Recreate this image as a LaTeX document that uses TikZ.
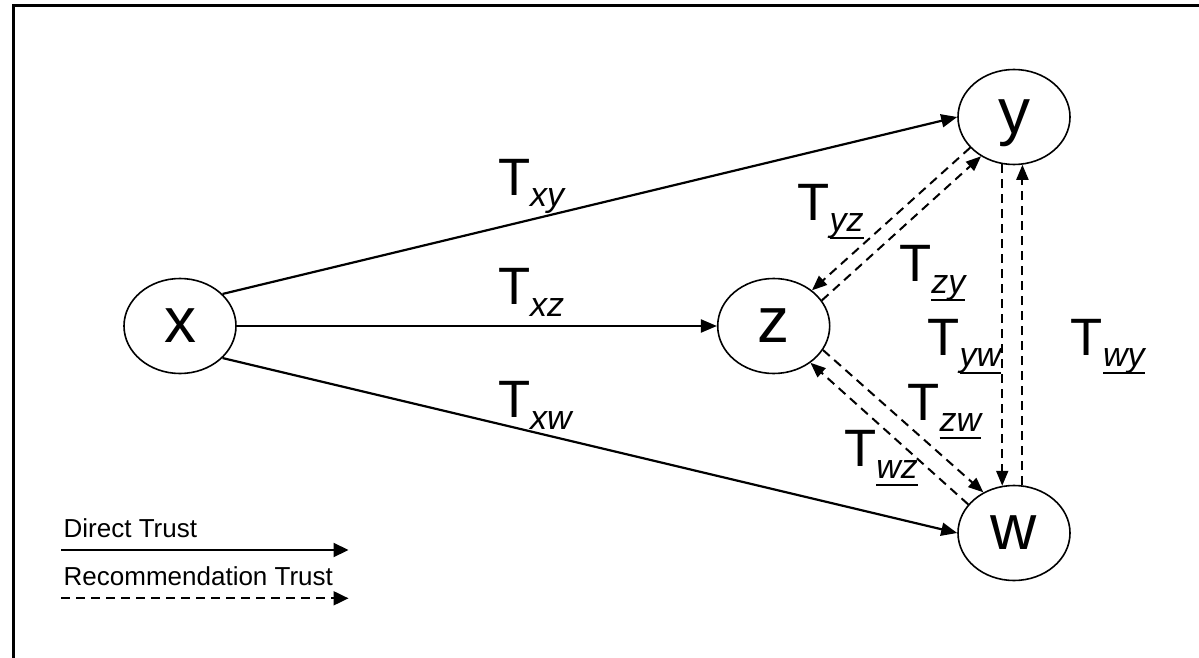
\documentclass[tikz,border=0pt]{standalone}
\usepackage{fontspec}
\setmainfont{Liberation Sans}
\usetikzlibrary{arrows.meta,shapes.geometric}
\newsavebox\myulbox
\newcommand\myul[1]{\sbox\myulbox{#1}\rlap{\rule[-7.5pt]{\wd\myulbox}{1.8pt}}\usebox\myulbox}
\newcommand\Tsub[1]{{\fontsize{52.6}{60}\selectfont T}\raisebox{-11.7pt}{\fontsize{34}{40}\selectfont\itshape #1}}
\newcommand\Tsubu[1]{{\fontsize{52.6}{60}\selectfont T}\raisebox{-11.7pt}{\fontsize{34}{40}\selectfont\itshape\myul{#1}}}
\tikzset{
  agent/.style={ellipse, draw, line width=1.6pt, minimum width=112pt, minimum height=95pt,
    inner sep=0pt, text height=33pt, text depth=0pt, font=\fontsize{64}{70}\selectfont},
  direct/.style={line width=2.2pt, -{Triangle[length=16pt,width=13pt]}},
  recom/.style={line width=2pt, dash pattern=on 9pt off 6pt, -{Triangle[length=15pt,width=12pt]}},
  lbl/.style={anchor=base west, inner sep=0pt},
  legtext/.style={anchor=base west, inner sep=0pt, font=\fontsize{26}{30}\selectfont}
}
\begin{document}
\begin{tikzpicture}[x=1pt,y=-1pt]
\useasboundingbox (0,0) rectangle (1199,658);
\draw[line width=2.2pt] (13.5,662) -- (13.5,5.5) -- (1203,5.5);

\node[agent] (x) at (180,326) {x};
\node[agent] (z) at (773.7,326) {z};
\node[agent] (y) at (1014,117) {y};
\node[agent] (w) at (1014,533) {w};

% direct trust
\draw[direct] (x.37) -- (y.west);
\draw[direct] (x.east) -- (z.west);
\draw[direct] (x.-37) -- (w.west);

% recommendation trust
\draw[recom] (y.215) -- (z.43.6);
\draw[recom] (z.28.4) -- (y.230.3);
\draw[recom] (z.-26.6) -- (w.127.4);
\draw[recom] (w.148.3) -- (z.-45.3);
\draw[recom] (y.256) -- (w.104);
\draw[recom] (w.80) -- (y.280);

% labels
\node[lbl] (lxy) at (497.8,195) {\Tsub{xy}};
\node[lbl] (lxz) at (497.8,304.3) {\Tsub{xz}};
\node[lbl] (lxw) at (497.8,417.7) {\Tsub{xw}};
\node[lbl] (lyz) at (797.3,220) {\Tsubu{yz}};
\node[lbl] (lzy) at (899,281.7) {\Tsubu{zy}};
\node[lbl] (lyw) at (927.3,355) {\Tsubu{yw}};
\node[lbl] (lwy) at (1070.7,355) {\Tsubu{wy}};
\node[lbl] (lzw) at (907.3,420) {\Tsubu{zw}};
\node[lbl] (lwz) at (844,466.7) {\Tsubu{wz}};

% legend
\node[legtext] (ld) at (63.5,537) {Direct Trust};
\node[legtext] (lr) at (63.5,585) {Recommendation Trust};
\coordinate (d1) at (61,550);
\coordinate (d2) at (348.5,550);
\coordinate (r1) at (61,598.3);
\coordinate (r2) at (348.5,598.3);
\draw[direct, -{Triangle[length=15pt,width=14pt]}] (d1) -- (d2);
\draw[recom, -{Triangle[length=15pt,width=14pt]}] (r1) -- (r2);
\end{tikzpicture}
\end{document}
